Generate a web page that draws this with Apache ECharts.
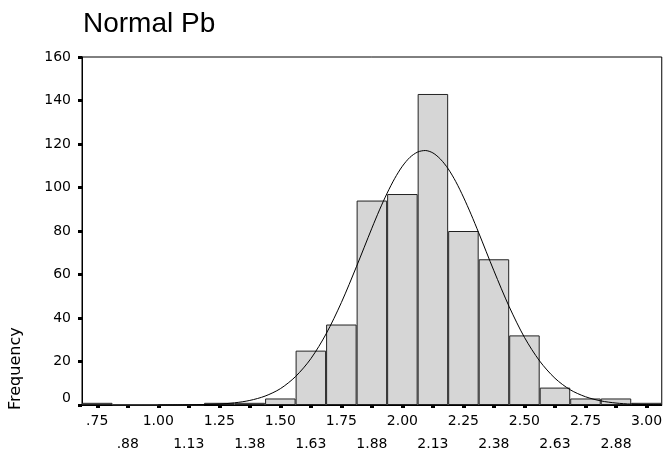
<!DOCTYPE html>
<html>
<head>
<meta charset="utf-8">
<script src="https://cdn.jsdelivr.net/npm/echarts@6/dist/echarts.min.js"></script>
<style>html,body{margin:0;padding:0;background:#fff;}#c{width:665px;height:456px;}</style>
</head>
<body>
<div id="c"></div>
<script>
// bin midpoints (tick labels) and frequencies
var binLabels = ['.75','.88','1.00','1.13','1.25','1.38','1.50','1.63','1.75','1.88','2.00','2.13','2.25','2.38','2.50','2.63','2.75','2.88','3.00'];
var frequency = [1,0,0,0,1,1,3,25,37,94,97,143,80,67,32,8,3,3,1];
var yTicks = [0,20,40,60,80,100,120,140,160];
// normal curve (x value, frequency)
var curveX = [1.0,1.125,1.25,1.3125,1.375,1.4375,1.5,1.5625,1.625,1.6875,1.75,1.8125,1.875,1.90625,1.9375,1.96875,2.0,2.03125,2.0625,2.09375,2.125,2.15625,2.1875,2.21875,2.25,2.28125,2.3125,2.375,2.4375,2.5,2.5625,2.625,2.6875,2.75,2.8125,2.875,2.9375,3.0,3.0625];
var curveY = [0,0.1,0.45,1.0,2.1,4.1,7.5,13.1,21.3,32.7,47.1,63.8,81.3,89.7,97.4,104.2,109.8,113.9,116.3,117.0,115.9,113.0,108.6,102.7,95.6,87.7,79.2,61.7,45.2,31.1,20.2,12.3,7.0,3.8,1.9,0.9,0.4,0.2,0.1];
var xMin = 0.6875, xMax = 3.0625;

var curveData = curveX.map(function (x, i) { return [x, curveY[i]]; });

var chart = echarts.init(document.getElementById('c'), null, {renderer: 'canvas'});
var tickFont = 'DejaVu Sans';
chart.setOption({
  animation: false,
  backgroundColor: '#fff',
  title: {
    text: 'Normal Pb',
    left: 83, top: 10, padding: 0,
    textStyle: {fontFamily: 'Liberation Sans', fontSize: 28, fontWeight: 'normal', color: '#000'}
  },
  grid: {left: 82, right: 0, top: 57, bottom: 48, show: true, borderColor: '#000', borderWidth: 1, backgroundColor: 'transparent'},
  xAxis: [{
    type: 'category',
    data: binLabels,
    boundaryGap: true,
    axisLine: {show: true, lineStyle: {color: '#000', width: 1}},
    axisTick: {show: true, alignWithLabel: true, length: 3, lineStyle: {color: '#000', width: 4}},
    axisLabel: {
      interval: 0, margin: 5, color: '#000', fontFamily: tickFont, fontSize: 14, lineHeight: 23,
      formatter: function (v, i) { return i % 2 ? '\n' + v : v; }
    },
    splitLine: {show: false}
  }, {
    type: 'value', min: xMin, max: xMax, show: false, position: 'bottom'
  }],
  yAxis: {
    type: 'value', min: 0, max: 160, interval: 20,
    axisLine: {show: true, lineStyle: {color: '#000', width: 1}},
    axisTick: {show: true, length: 4, lineStyle: {color: '#000', width: 3}},
    axisLabel: {
      margin: 11, color: '#000', fontFamily: tickFont, fontSize: 14,
      formatter: function (v) { return v === 0 ? '{z|0}' : String(v); },
      rich: {z: {fontFamily: tickFont, fontSize: 14, color: '#000', padding: [0, 0, 14, 0]}}
    },
    splitLine: {show: false}
  },
  graphic: [{
    type: 'text',
    x: 16, y: 410,
    rotation: Math.PI / 2,
    style: {text: 'Frequency', font: '16px "DejaVu Sans"', fill: '#000', textAlign: 'left', textVerticalAlign: 'middle'}
  }],
  series: [{
    type: 'bar',
    data: frequency,
    barCategoryGap: '0%',
    itemStyle: {color: '#d6d6d6', borderColor: '#222', borderWidth: 1},
    silent: true
  }, {
    type: 'line',
    xAxisIndex: 1,
    data: curveData,
    smooth: 0.3,
    showSymbol: false,
    lineStyle: {color: '#000', width: 1},
    silent: true
  }]
});
</script>
</body>
</html>
